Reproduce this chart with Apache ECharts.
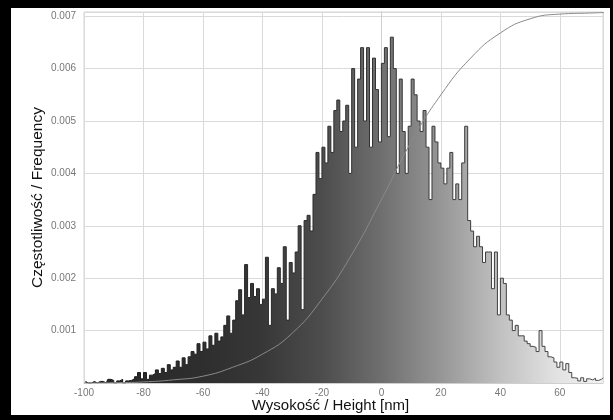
<!DOCTYPE html>
<html><head><meta charset="utf-8">
<script src="https://cdn.jsdelivr.net/npm/echarts@6/dist/echarts.min.js"></script>
<style>html,body{margin:0;padding:0;background:#fff}#c{width:613px;height:420px}</style>
</head><body><div id="c"></div>
<script>
// Histogram bins (1 nm wide, left edges from -100)
const binStart = -100;
const binWidth = 1;
const freq = [
0.00003,0,0,0.00003,0,0.00003,0.00003,0,0.00007,0.00005,
0,0.00004,0.00007,0,0.00004,0.00005,0.00008,0.00012,0.0002,0.00008,
0.0002,0.00007,0.00015,0.00018,0.00025,0.00018,0.00028,0.0002,0.00035,0.00025,
0.0003,0.00042,0.0003,0.00048,0.00035,0.0005,0.0006,0.00055,0.00075,0.0006,
0.00078,0.00065,0.0009,0.00072,0.00095,0.0008,0.00088,0.0011,0.00128,0.00095,
0.0012,0.00157,0.00178,0.0013,0.00226,0.00163,0.0019,0.00165,0.0018,0.0015,
0.0016,0.0024,0.0011,0.0018,0.0017,0.0022,0.0019,0.0026,0.0012,0.0023,
0.0021,0.0025,0.0030,0.0014,0.0031,0.0032,0.0029,0.0036,0.0044,0.0039,
0.0045,0.0042,0.0049,0.0044,0.0052,0.0054,0.0048,0.0050,0.0053,0.0040,
0.0060,0.0045,0.0058,0.0064,0.0050,0.0064,0.0045,0.0062,0.0056,0.0046,
0.0061,0.0064,0.0047,0.0066,0.0060,0.0040,0.0058,0.0048,0.0040,0.0049,
0.0058,0.0055,0.0050,0.0048,0.0052,0.0045,0.0035,0.0049,0.0046,0.0042,
0.0041,0.0038,0.0041,0.0044,0.0035,0.0038,0.0035,0.0042,0.0049,0.0031,
0.0029,0.0026,0.0028,0.0026,0.0023,0.0025,0.0025,0.0018,0.0025,0.0013,
0.0020,0.0019,0.0013,0.0012,0.0010,0.0011,0.0009,0.0009,0.0008,0.00075,
0.0007,0.00068,0.0006,0.0010,0.0007,0.0006,0.0005,0.00048,0.0004,0.0003,
0.0004,0.00025,0.00037,0.0002,0.0001,0.00009,0.00004,0.0001,0.00003,0.00008,
0.00006,0.00009,0.00005,0.00007,0.0001
];
// Cumulative curve (scaled to the frequency axis)
const cdfX = [-100,-90,-80,-70,-60,-50,-40,-30,-20,-10,0,10,20,30,40,50,60,70,75];
const cdfY = [0,0.000005,0.00002,0.00006,0.00013,0.0003,0.00055,0.00095,0.0016,0.00245,0.0035,0.0046,0.0055,0.0062,0.00668,0.00695,0.00704,0.00706,0.00707];
const xTicks = [-100,-80,-60,-40,-20,0,20,40,60];
const yTicks = [0.001,0.002,0.003,0.004,0.005,0.006,0.007];

const histData = freq.map((v,i)=>[binStart + binWidth*(i+0.5), v]);
const cdfData = cdfX.map((x,i)=>[x, cdfY[i]]);

const chart = echarts.init(document.getElementById('c'), null, {renderer:'canvas'});
const font = '"Liberation Sans", Arial, sans-serif';
const areaGrad = {type:'linear', x:84, y:0, x2:603, y2:0, global:true, colorStops:[
  {offset:0, color:'#262626'},{offset:0.23,color:'#2e2e2e'},{offset:0.34,color:'#373737'},
  {offset:0.46,color:'#4d4d4d'},{offset:0.57,color:'#6e6e6e'},{offset:0.69,color:'#979797'},
  {offset:0.8,color:'#c0c0c0'},{offset:0.91,color:'#e2e2e2'},{offset:1,color:'#f2f2f2'}]};
const lineGrad = {type:'linear', x:84, y:0, x2:603, y2:0, global:true, colorStops:[
  {offset:0,color:'#151515'},{offset:0.6,color:'#333333'},{offset:1,color:'#4a4a4a'}]};

chart.setOption({
  animation:false,
  backgroundColor:'#ffffff',
  grid:{left:84, right:10, top:12, bottom:37, show:true, borderColor:'#d4d4d4', borderWidth:1},
  xAxis:{type:'value', min:-100, max:74.5, interval:20,
    name:'Wysokość / Height [nm]', nameLocation:'middle', nameGap:15, nameMoveOverlap:false,
    nameTextStyle:{fontFamily:font, fontSize:15, color:'#111', padding:[0,26,0,0]},
    axisLine:{show:true, lineStyle:{color:'#cfcfcf'}}, axisTick:{show:false},
    axisLabel:{fontFamily:font, fontSize:10, color:'#777', margin:5,
      formatter:v=> xTicks.includes(v) ? String(v) : ''},
    splitLine:{show:true, lineStyle:{color:'#dadada', width:1}}},
  yAxis:{type:'value', min:0, max:0.00708, interval:0.001,
    name:'Częstotliwość / Frequency', nameLocation:'middle', nameGap:38, nameMoveOverlap:false,
    nameTextStyle:{fontFamily:font, fontSize:15.5, color:'#111'},
    axisLine:{show:true, lineStyle:{color:'#cfcfcf'}}, axisTick:{show:false},
    axisLabel:{fontFamily:font, fontSize:10, color:'#777', margin:8,
      formatter:v=>{ const t = yTicks.find(k=>Math.abs(k-v)<1e-9); return t ? t.toFixed(3) : ''; }},
    splitLine:{show:true, lineStyle:{color:'#dadada', width:1}}},
  series:[
    {type:'line', data:histData, step:'middle', symbol:'none',
     lineStyle:{color:lineGrad, width:1}, areaStyle:{color:areaGrad, opacity:1}, z:2},
    {type:'line', data:cdfData, smooth:0.5, symbol:'none',
     lineStyle:{color:'#8a8a8a', width:1}, z:3}
  ],
  graphic:[
    {type:'rect', shape:{x:0,y:0,width:613,height:8}, style:{fill:'#000'}, silent:true},
    {type:'rect', shape:{x:0,y:0,width:11,height:420}, style:{fill:'#000'}, silent:true},
    {type:'rect', shape:{x:0,y:415,width:613,height:5}, style:{fill:'#000'}, silent:true},
    {type:'rect', shape:{x:610,y:0,width:3,height:420}, style:{fill:'#000'}, silent:true}
  ]
});
</script></body></html>
